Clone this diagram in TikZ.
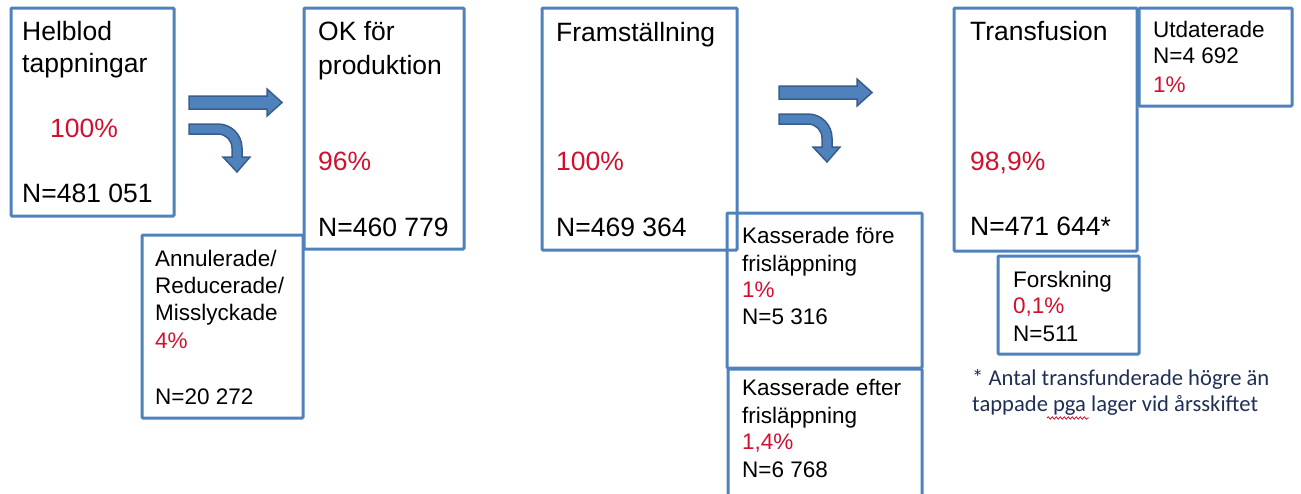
\documentclass[tikz,border=0pt]{standalone}
\usepackage{fontspec}
\setmainfont{Liberation Sans}
\newfontfamily\notefont{Carlito}
\usetikzlibrary{fit, decorations.pathmorphing}
\definecolor{boxblue}{HTML}{4F81BD}
\definecolor{arrowedge}{HTML}{385D8A}
\definecolor{pctred}{HTML}{D0102E}
\definecolor{notenavy}{HTML}{1F2F55}

\begin{document}
\begin{tikzpicture}[x=1pt, y=-1pt,
    box/.style={draw=boxblue, line width=3pt, rounded corners=1pt, inner sep=0pt},
    bigtxt/.style={anchor=base west, inner sep=0pt, font=\fontsize{26.5}{32}\selectfont},
    smalltxt/.style={anchor=base west, inner sep=0pt, font=\fontsize{22.5}{27}\selectfont},
    pct/.style={text=pctred},
    note/.style={anchor=base west, inner sep=0pt, text=notenavy, font=\notefont\fontsize{22.6}{26}\selectfont},
    blockarrow/.style={fill=boxblue, draw=arrowedge, line width=1.5pt, line join=miter}
]
\useasboundingbox (0,0) rectangle (1301,493);

% boxes
\node[box, fit={(11,8) (174,216)}] (helblod) {};
\node[box, fit={(304,8) (464,249)}] (ok) {};
\node[box, fit={(142,235) (303,418)}] (annul) {};
\node[box, fit={(542,8) (737,250)}] (fram) {};
\node[box, fit={(727,213) (922,368)}] (kfore) {};
\node[box, fit={(728,369) (922,496)}] (kefter) {};
\node[box, fit={(954,8) (1137,251)}] (transf) {};
\node[box, fit={(1139,8) (1292,106)}] (utdat) {};
\node[box, fit={(998,256) (1139,354)}] (forsk) {};

% block arrows
\foreach \dx/\dy in {0/0, 590/-10} {
  \begin{scope}[shift={(\dx,\dy)}]
    \draw[blockarrow] (189,96) -- (267,96) -- (267,89) -- (282,102.5) -- (267,116) -- (267,109) -- (189,109) -- cycle;
    \draw[blockarrow] (189,124) -- (218,124) .. controls (231.25,124) and (242,134.75) .. (242,148)
      -- (242,157) -- (250,157) -- (237,172) -- (223,157) -- (232,157) -- (232,148)
      .. controls (232,140.3) and (225.7,134) .. (218,134) -- (189,134) -- cycle;
  \end{scope}
}

% texts
\node[bigtxt] (helblod-a) at (22,40) {Helblod};
\node[bigtxt] (helblod-b) at (22,72) {tappningar};
\node[bigtxt, pct] (helblod-p) at (50,137) {100\%};
\node[bigtxt] (helblod-n) at (22,202) {N=481 051};

\node[bigtxt] (ok-a) at (318,40) {OK för};
\node[bigtxt] (ok-b) at (318,74) {produktion};
\node[bigtxt, pct] (ok-p) at (318,170) {96\%};
\node[bigtxt] (ok-n) at (318,236) {N=460 779};

\node[smalltxt] (annul-a) at (155,266) {Annulerade/};
\node[smalltxt] (annul-b) at (155,293) {Reducerade/};
\node[smalltxt] (annul-c) at (155,320) {Misslyckade};
\node[smalltxt, pct] (annul-p) at (155,348) {4\%};
\node[smalltxt] (annul-n) at (155,404) {N=20 272};

\node[bigtxt] (fram-a) at (556,41) {Framställning};
\node[bigtxt, pct] (fram-p) at (556,170) {100\%};
\node[bigtxt] (fram-n) at (556,236) {N=469 364};

\node[smalltxt] (kfore-a) at (742,243) {Kasserade före};
\node[smalltxt] (kfore-b) at (742,271) {frisläppning};
\node[smalltxt, pct] (kfore-p) at (742,297) {1\%};
\node[smalltxt] (kfore-n) at (742,324) {N=5 316};

\node[smalltxt] (kefter-a) at (742,395) {Kasserade efter};
\node[smalltxt] (kefter-b) at (742,423) {frisläppning};
\node[smalltxt, pct] (kefter-p) at (742,449) {1,4\%};
\node[smalltxt] (kefter-n) at (742,477) {N=6 768};

\node[bigtxt] (transf-a) at (970,40) {Transfusion};
\node[bigtxt, pct] (transf-p) at (970,170) {98,9\%};
\node[bigtxt] (transf-n) at (970,235) {N=471 644*};

\node[smalltxt] (utdat-a) at (1153,37) {Utdaterade};
\node[smalltxt] (utdat-n) at (1153,63) {N=4 692};
\node[smalltxt, pct] (utdat-p) at (1153,92) {1\%};

\node[smalltxt] (forsk-a) at (1013,287) {Forskning};
\node[smalltxt, pct] (forsk-p) at (1013,313) {0,1\%};
\node[smalltxt] (forsk-n) at (1013,341) {N=511};

% footnote
\node[note] (note-a) at (972,385) {* Antal transfunderade högre än};
\node[note] (note-b) at (972,411) {tappade pga lager vid årsskiftet};
\draw[pctred, line width=0.8pt, decorate, decoration={snake, amplitude=1.2pt, segment length=4pt}]
  (1047,418) -- (1089,418);
\end{tikzpicture}
\end{document}
